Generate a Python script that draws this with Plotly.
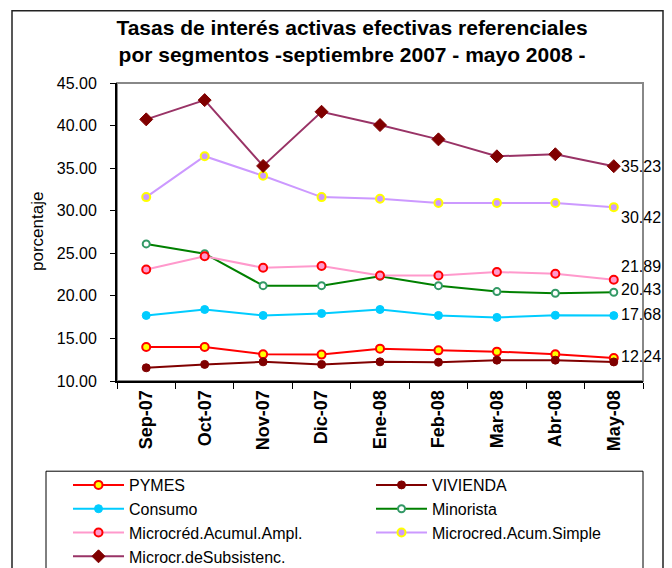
import plotly.graph_objects as go

# ---------------- data ----------------
months = ["Sep-07", "Oct-07", "Nov-07", "Dic-07", "Ene-08", "Feb-08", "Mar-08", "Abr-08", "May-08"]

pymes = [14.00, 14.00, 13.15, 13.10, 13.80, 13.60, 13.45, 13.15, 12.70]
vivienda = [11.55, 11.95, 12.25, 11.95, 12.25, 12.20, 12.45, 12.45, 12.24]
consumo = [17.70, 18.40, 17.70, 17.93, 18.40, 17.70, 17.47, 17.72, 17.68]
minorista = [26.10, 24.95, 21.20, 21.20, 22.30, 21.20, 20.50, 20.30, 20.43]
micro_ampl = [23.10, 24.65, 23.30, 23.50, 22.40, 22.40, 22.80, 22.60, 21.89]
micro_simple = [31.60, 36.40, 34.10, 31.60, 31.40, 30.90, 30.90, 30.90, 30.42]
micro_subs = [40.73, 42.99, 35.26, 41.62, 40.06, 38.38, 36.39, 36.63, 35.23]

y_ticks = [10, 15, 20, 25, 30, 35, 40, 45]

title_text = ("Tasas de interés activas efectivas referenciales<br>"
              "por segmentos -septiembre 2007 - mayo 2008 -")
y_title = "porcentaje"

# ---------------- layout geometry ----------------
W, H = 672, 568
L, R, T, B = 117, 29, 82.5, 186.5
PW, PH = W - L - R, H - T - B


def px_x(px):
    return (px - L) / PW


def px_y(py):
    return (H - B - py) / PH


FONT = "Liberation Sans, Arial, sans-serif"

series = [
    # name, values, line color, marker symbol, marker fill, marker line color, marker size, marker line width, legend
    ("PYMES", pymes, "#FF0000", "circle", "#FFFF00", "#FF0000", 8, 2, "legend"),
    ("VIVIENDA", vivienda, "#800000", "circle", "#800000", "#800000", 8, 1, "legend2"),
    ("Consumo", consumo, "#00CCFF", "circle", "#00CCFF", "#00CCFF", 8, 1, "legend"),
    ("Minorista", minorista, "#008000", "circle", "#FFFFFF", "#339966", 7, 2, "legend2"),
    ("Microcréd.Acumul.Ampl.", micro_ampl, "#FF99CC", "circle", "#FF99CC", "#FF0000", 8, 2, "legend"),
    ("Microcred.Acum.Simple", micro_simple, "#CC99FF", "circle", "#CC99FF", "#FFFF00", 8, 2, "legend2"),
    ("Microcr.deSubsistenc.", micro_subs, "#993366", "diamond", "#800000", "#800000", 10, 1, "legend"),
]

fig = go.Figure()
for name, vals, lc, sym, mf, ml, ms, mlw, lg in series:
    fig.add_trace(go.Scatter(
        x=months, y=vals, name=name, mode="lines+markers",
        line=dict(color=lc, width=2),
        marker=dict(symbol=sym, color=mf, size=ms, line=dict(color=ml, width=mlw)),
        legend=lg,
    ))

# end-of-series data labels
label_series = [
    (micro_subs, 0),
    (micro_simple, -10),
    (micro_ampl, 13),
    (minorista, 3),
    (consumo, 1),
    (vivienda, 5),
]
for vals, ysh in label_series:
    fig.add_annotation(
        x=months[-1], y=vals[-1], text=f"{vals[-1]:.2f}", showarrow=False,
        xanchor="left", yanchor="middle", xshift=5, yshift=ysh,
        font=dict(family=FONT, size=16, color="#000000"),
    )

# y-axis title
fig.add_annotation(
    xref="paper", yref="paper", x=px_x(37), y=0.5, text=y_title, textangle=-90,
    showarrow=False, xanchor="center", yanchor="middle",
    font=dict(family=FONT, size=17, color="#000000"),
)

shapes = [
    # outer chart frame
    dict(type="rect", xref="paper", yref="paper",
         x0=px_x(12), x1=px_x(663), y0=px_y(600), y1=px_y(10),
         line=dict(color="#222222", width=1.5), layer="below"),
    # plot area border (gray)
    dict(type="rect", xref="paper", yref="paper",
         x0=0, x1=1, y0=0, y1=1,
         line=dict(color="#888888", width=2), layer="below"),
    # legend box
    dict(type="rect", xref="paper", yref="paper",
         x0=px_x(46), x1=px_x(643), y0=px_y(600), y1=px_y(472),
         line=dict(color="#000000", width=1), layer="below"),
]

legend_common = dict(xanchor="left", yanchor="top", xref="container", yref="container",
                     orientation="v", bgcolor="rgba(0,0,0,0)", borderwidth=0,
                     font=dict(family=FONT, size=16), itemwidth=51,
                     traceorder="normal", tracegroupgap=0)

fig.update_layout(
    width=W, height=H,
    margin=dict(l=L, r=R, t=T, b=B, autoexpand=False),
    paper_bgcolor="white", plot_bgcolor="white",
    font=dict(family=FONT, color="#000000"),
    title=dict(text=title_text, x=352 / W, xanchor="center",
               y=1 - 35 / H, yanchor="top", yref="container",
               font=dict(family=FONT, size=21, color="#000000", weight="bold")),
    showlegend=True,
    legend=dict(x=68 / W, y=1 - 468 / H, **legend_common),
    legend2=dict(x=371 / W, y=1 - 468 / H, **legend_common),
    shapes=shapes,
    xaxis=dict(type="category", range=[-0.5, 8.5], tickson="boundaries",
               ticks="outside", ticklen=6, tickcolor="#000000",
               showline=True, linecolor="#000000", linewidth=2,
               showgrid=False, zeroline=False, tickangle=-90,
               tickfont=dict(family=FONT, size=18, weight="bold")),
    yaxis=dict(range=[10, 45], tickvals=y_ticks, tickformat=".2f",
               ticks="outside", ticklen=5, tickcolor="#000000",
               showline=True, linecolor="#000000", linewidth=2,
               showgrid=False, zeroline=False, ticklabelstandoff=10,
               tickfont=dict(family=FONT, size=16)),
)

fig.write_html("out.html",
               config={"displayModeBar": False},
               post_script="document.body.style.margin='0';document.body.style.overflow='hidden';")
